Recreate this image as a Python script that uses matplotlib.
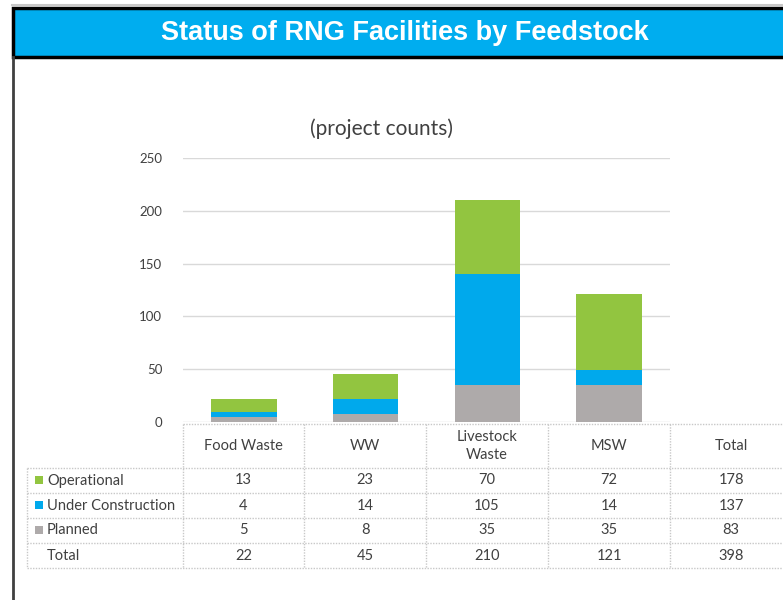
import matplotlib.pyplot as plt
from matplotlib.patches import Rectangle

categories = ["Food Waste", "WW", "Livestock\nWaste", "MSW"]
statuses = ["Operational", "Under Construction", "Planned"]
operational = [13, 23, 70, 72]
under_construction = [4, 14, 105, 14]
planned = [5, 8, 35, 35]
yticks = [0, 50, 100, 150, 200, 250]

colors = {"Operational": "#92c540", "Under Construction": "#00a9ec", "Planned": "#aeaaaa"}
font = "Lato"
txt = "#404040"

W, H = 783, 600
fig = plt.figure(figsize=(W / 100, H / 100), dpi=100)

# chart axes (pixel box 183..670 x 158..422)
ax = fig.add_axes([183 / W, 1 - 422 / H, 487 / W, 264 / H])
x = range(len(categories))
ax.bar(x, planned, width=0.54, color=colors["Planned"], zorder=3)
ax.bar(x, under_construction, width=0.54, bottom=planned, color=colors["Under Construction"], zorder=3)
bottom2 = [p + u for p, u in zip(planned, under_construction)]
ax.bar(x, operational, width=0.54, bottom=bottom2, color=colors["Operational"], zorder=3)
ax.set_xlim(-0.5, len(categories) - 0.5)
ax.set_ylim(0, 250)
ax.set_yticks(yticks)
ax.set_yticklabels([str(t) for t in yticks], fontsize=9.5, color=txt, family=font)
ax.set_xticks([])
ax.tick_params(axis="y", length=0, pad=15)
ax.grid(axis="y", color="#d9d9d9", lw=1, zorder=0)
for s in ax.spines.values():
    s.set_visible(False)

# overlay in pixel coords for frame, title and table
ov = fig.add_axes([0, 0, 1, 1], zorder=-1)
ov.set_xlim(0, W)
ov.set_ylim(H, 0)
ov.axis("off")
ov.plot([12, W], [5, 5], color="#c8c8c8", lw=1.5)
ov.add_patch(Rectangle((12.5, 8), W, 48.5, facecolor="#00adef", edgecolor="black", lw=2.5))
ov.plot([12.5, 12.5], [57, H], color="#404040", lw=2)
ov.text(405, 33, "Status of RNG Facilities by Feedstock", color="white", fontsize=19.5,
        fontweight="bold", family="Liberation Sans", ha="center", va="center")
ov.text(382, 129, "(project counts)", fontsize=15, color="#404040", family=font,
        ha="center", va="center")

# data table
cols = [183, 304, 426, 548, 670, 792]
rows = [424, 468, 493, 518, 543, 568]
gc = "#c8c8c8"
ov.plot([183, W], [424, 424], color=gc, lw=1, ls=(0, (1, 1)))
for y in rows[1:]:
    ov.plot([27, W], [y, y], color=gc, lw=1, ls=(0, (1, 1)))
for xx in cols[:-1]:
    ov.plot([xx, xx], [424, 568], color=gc, lw=1, ls=(0, (1, 1)))
ov.plot([27, 27], [468, 568], color=gc, lw=1, ls=(0, (1, 1)))

headers = categories + ["Total"]
totals = [o + u + p for o, u, p in zip(operational, under_construction, planned)]
table_rows = [operational, under_construction, planned]
fs = 10.5
for j, hd in enumerate(headers):
    cx = (cols[j] + cols[j + 1]) / 2
    if j == 4:
        cx = 731
    ov.text(cx, 446, hd, ha="center", va="center", fontsize=fs, color=txt, family=font,
            linespacing=1.3)
for i, name in enumerate(statuses + ["Total"]):
    cy = (rows[i + 1] + rows[i + 2]) / 2
    if i < 3:
        vals = table_rows[i] + [sum(table_rows[i])]
        ov.add_patch(Rectangle((35, cy - 4.5), 8, 8, facecolor=colors[name], edgecolor="none"))
    else:
        vals = totals + [sum(totals)]
    ov.text(47, cy, name, ha="left", va="center", fontsize=fs, color=txt, family=font)
    for j, v in enumerate(vals):
        cx = (cols[j] + cols[j + 1]) / 2
        if j == 4:
            cx = 731
        ov.text(cx, cy, str(v), ha="center", va="center", fontsize=fs, color=txt, family=font)

fig.savefig("out.png", dpi=100)
